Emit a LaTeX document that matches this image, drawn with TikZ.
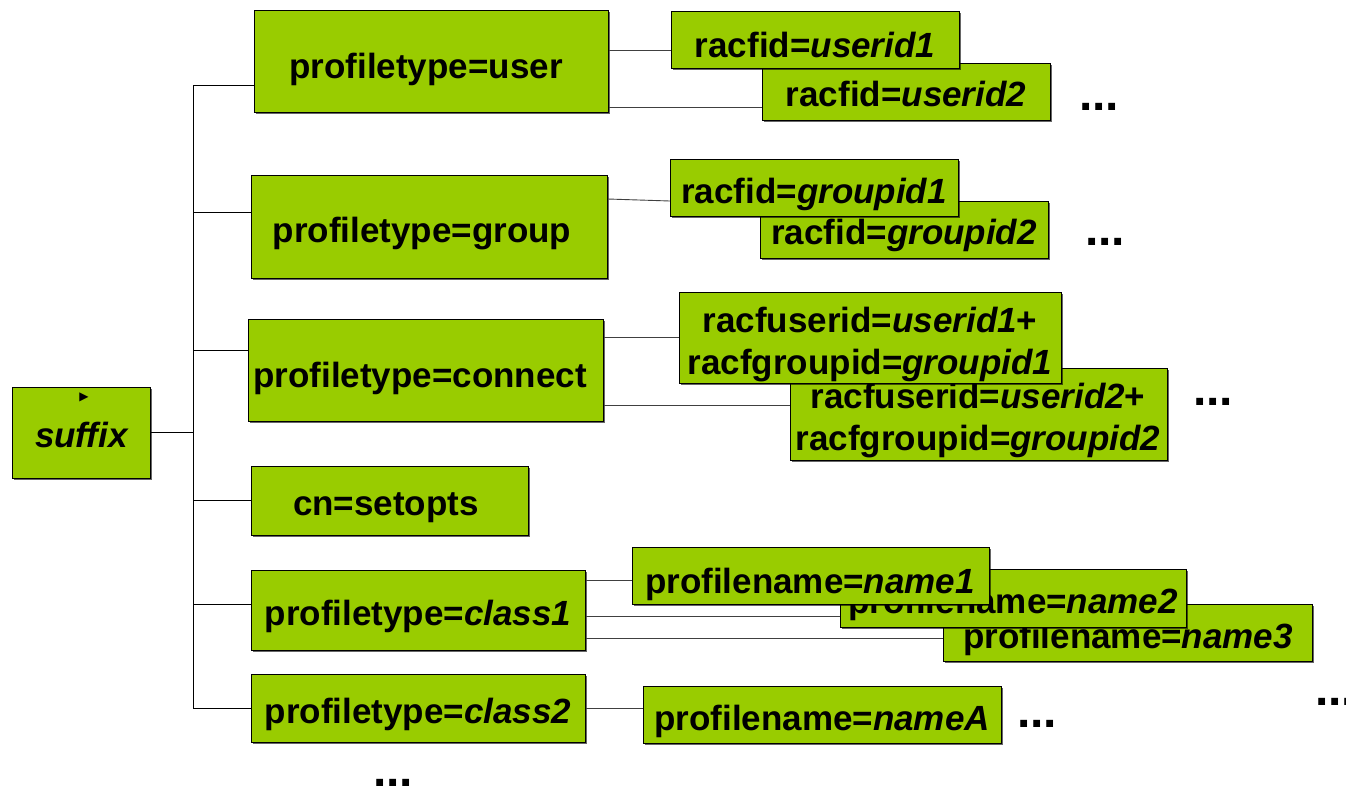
\documentclass[tikz,border=0pt]{standalone}
\usepackage{fontspec}
\setmainfont{Liberation Sans}
\newfontfamily\symfont{DejaVu Sans}
\usetikzlibrary{shadows}
\definecolor{boxgreen}{HTML}{99CC00}
\tikzset{
  box/.style={draw=black, line width=0.8pt, fill=boxgreen, anchor=north west, inner sep=0pt,
    drop shadow={shadow xshift=1.2pt, shadow yshift=-1.2pt, fill=black, opacity=0.6}},
  txt/.style={anchor=base, inner sep=0pt, font=\fontsize{35}{42}\selectfont\bfseries},
  dots/.style={anchor=base, inner sep=0pt, font=\fontsize{48}{50}\selectfont\bfseries},
  trunk/.style={draw=black, line width=0.9pt},
  link/.style={draw=black!75, line width=0.9pt}
}
\begin{document}
\begin{tikzpicture}[x=1pt,y=-1pt]
\useasboundingbox (0,0) rectangle (1346,788);

% root
\node[box, minimum width=138pt, minimum height=91pt] (suffix) at (12,387) {};
\node[anchor=center, inner sep=0pt, font=\symfont\fontsize{12}{12}\selectfont] (bul) at (84,397) {▶};
\node[txt] (suffixt) at (82,447) {\textit{suffix}};

% level 1
\node[box, minimum width=354pt, minimum height=102pt] (user) at (254,10) {};
\node[txt] (usert) at (426,78) {profiletype=user};
\node[box, minimum width=356pt, minimum height=103pt] (grp) at (251,175) {};
\node[txt] (grpt) at (422,242) {profiletype=group};
\node[box, minimum width=355pt, minimum height=102pt] (conn) at (248,319) {};
\node[txt] (connt) at (420,387) {profiletype=connect};
\node[box, minimum width=277pt, minimum height=69pt] (setopts) at (251,466) {};
\node[txt] (setoptst) at (386,515) {cn=setopts};
\node[box, minimum width=334pt, minimum height=80pt] (class1) at (251,570) {};
\node[txt] (class1t) at (418,625) {profiletype=\textit{class1}};
\node[box, minimum width=334pt, minimum height=68pt] (class2) at (251,674) {};
\node[txt] (class2t) at (418,723) {profiletype=\textit{class2}};

% users
\node[box, minimum width=288pt, minimum height=57pt] (u2) at (762,63) {};
\node[txt] (u2t) at (906,106) {racfid=\textit{userid2}};
\node[box, minimum width=288pt, minimum height=57pt] (u1) at (671,11) {};
\node[txt] (u1t) at (815,57) {racfid=\textit{userid1}};
\node[dots] (ud) at (1099,110) {...};

% groups
\node[box, minimum width=288pt, minimum height=57pt] (g2) at (760,201) {};
\node[txt] (g2t) at (904,244) {racfid=\textit{groupid2}};
\node[box, minimum width=288pt, minimum height=57pt] (g1) at (670,159) {};
\node[txt] (g1t) at (814,203) {racfid=\textit{groupid1}};
\node[dots] (gd) at (1105,245) {...};

% connects
\node[box, minimum width=377pt, minimum height=92pt] (c2) at (790,368) {};
\node[txt, align=center] (c2a) at (978,408) {racfuserid=\textit{userid2}+};
\node[txt, align=center] (c2b) at (978,450) {racfgroupid=\textit{groupid2}};
\node[box, minimum width=382pt, minimum height=91pt] (c1) at (679,292) {};
\node[txt, align=center] (c1a) at (870,332) {racfuserid=\textit{userid1}+};
\node[txt, align=center] (c1b) at (870,374) {racfgroupid=\textit{groupid1}};
\node[dots] (cd) at (1213,405) {...};

% class1 names
\node[box, minimum width=369pt, minimum height=57pt] (n3) at (943,604) {};
\node[txt] (n3t) at (1128,648) {profilename=\textit{name3}};
\node[box, minimum width=346pt, minimum height=58pt] (n2) at (840,569) {};
\node[txt] (n2t) at (1013,613) {profilename=\textit{name2}};
\node[box, minimum width=357pt, minimum height=57pt] (n1) at (632,547) {};
\node[txt] (n1t) at (810,593) {profilename=\textit{name1}};

% class2 names
\node[box, minimum width=358pt, minimum height=57pt] (nA) at (643,686) {};
\node[txt] (nAt) at (822,730) {profilename=\textit{nameA}};
\node[dots] (nAd) at (1037,727) {...};
\node[dots] (rd) at (1335,705) {...};
\node[dots] (bd) at (393,786) {...};

% trunk
\coordinate (top) at (193,85);
\coordinate (bot) at (193,708);
\draw[trunk] (top) -- (bot);
\draw[trunk] (suffix.east) -- (suffix.east -| top);
\draw[trunk] (user.west |- 0,85) -- (top);
\draw[trunk] (grp.west |- 0,212) -- (top |- 0,212);
\draw[trunk] (conn.west |- 0,350) -- (top |- 0,350);
\draw[trunk] (setopts.west |- 0,500) -- (top |- 0,500);
\draw[trunk] (class1.west |- 0,604) -- (top |- 0,604);
\draw[trunk] (class2.west |- 0,708) -- (bot);

% links
\draw[link] (user.east |- 0,50) -- (u1.west |- 0,50);
\draw[link] (user.east |- 0,107) -- (u2.west |- 0,107);
\draw[link] (grp.east |- 0,199) -- (g1.west |- 0,201);
\draw[link] (conn.east |- 0,337) -- (c1.west |- 0,337);
\draw[link] (conn.east |- 0,405) -- (c2.west |- 0,405);
\draw[link] (class1.east |- 0,580) -- (n1.west |- 0,580);
\draw[link] (class1.east |- 0,616) -- (n2.west |- 0,616);
\draw[link] (class1.east |- 0,638) -- (n3.west |- 0,638);
\draw[link] (class2.east |- 0,708) -- (nA.west |- 0,708);
\end{tikzpicture}
\end{document}
